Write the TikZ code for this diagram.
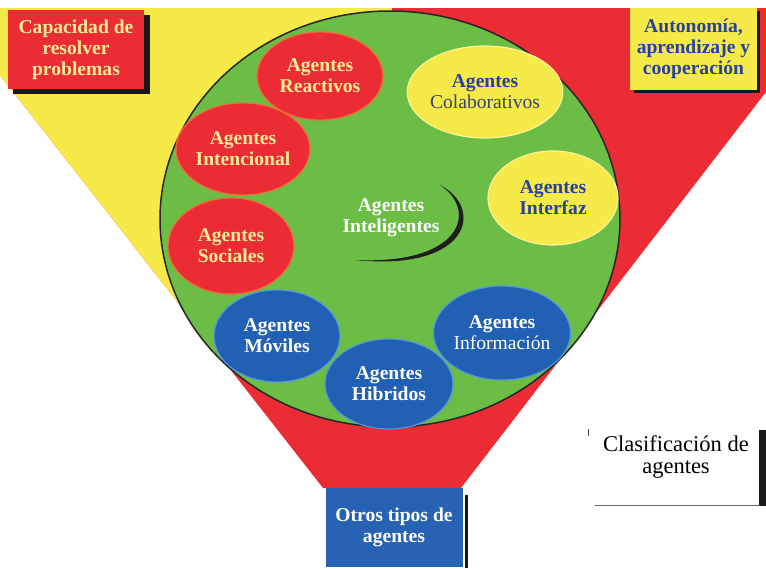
\documentclass[tikz,border=0pt]{standalone}
\usepackage{fontspec}
\setmainfont{Liberation Serif}
\usetikzlibrary{shapes.geometric}

\definecolor{funnelRed}{RGB}{236,44,52}
\definecolor{funnelYellow}{RGB}{246,234,72}
\definecolor{discGreen}{RGB}{108,189,70}
\definecolor{agBlue}{RGB}{33,96,178}
\definecolor{agBlueEdge}{RGB}{80,150,225}
\definecolor{agRedEdge}{RGB}{242,105,60}
\definecolor{agYellowEdge}{RGB}{252,242,150}
\definecolor{paleYellow}{RGB}{252,236,150}
\definecolor{inkBlue}{RGB}{40,65,160}
\definecolor{slateBlue}{RGB}{55,65,125}
\definecolor{boxBlue}{RGB}{40,98,180}

\newcommand\agfont{\fontsize{19.6}{21}\selectfont\bfseries}
\newcommand\capfont{\fontsize{22.5}{21.5}\selectfont}

\tikzset{
  agent/.style={ellipse, inner sep=0pt, align=center, line width=1.2pt,
                minimum width=128pt, minimum height=92pt, font=\agfont},
  redagent/.style={agent, fill=funnelRed, draw=agRedEdge, text=paleYellow},
  yellowagent/.style={agent, fill=funnelYellow, draw=agYellowEdge, text=inkBlue},
  blueagent/.style={agent, fill=agBlue, draw=agBlueEdge, text=white},
  cornerbox/.style={rectangle, inner sep=0pt, align=center, font=\agfont},
  shadowfill/.style={fill=black!90}
}

\begin{document}
\begin{tikzpicture}[x=1pt,y=-1pt]
\useasboundingbox (0,0) rectangle (766,570);

% funnel: red body with the yellow upper-left wedge
\fill[funnelRed] (0,8) -- (766,8) -- (766,92) -- (461,488) -- (323,488) -- (0,75) -- cycle;
\fill[funnelYellow] (0,8) -- (392,8) -- (390,219) -- (199.5,330) -- (0,75) -- cycle;

% central disc
\fill[discGreen] (390,219) ellipse [x radius=230, y radius=208];
\draw[black!85, line width=1.5pt] (390,219) ellipse [x radius=230, y radius=208];

% crescent around the central label
\fill[black!88] (440,185) .. controls (485,208) and (470,272) .. (355,260)
                 .. controls (463,265) and (478,210) .. (440,185) -- cycle;

% agent types
\node[redagent, minimum width=126pt, minimum height=88pt] (reactivos) at (320,76) {Agentes\\Reactivos};
\node[redagent, minimum width=128pt, minimum height=92pt] (intencional) at (243,149) {Agentes\\Intencional};
\node[redagent, minimum width=126pt, minimum height=96pt] (sociales) at (231,246) {Agentes\\Sociales};

\node[yellowagent, minimum width=126pt, minimum height=92pt] (colaborativos) at (485,92)
  {Agentes\\{\mdseries\color{slateBlue}Colaborativos}};
\node[yellowagent, minimum width=130pt, minimum height=94pt] (interfaz) at (553,198) {Agentes\\Interfaz};

\node[blueagent, minimum width=126pt, minimum height=92pt] (moviles) at (277,336) {Agentes\\Móviles};
\node[blueagent, minimum width=130pt, minimum height=94pt] (informacion) at (502,333) {Agentes\\{\mdseries Información}};
\node[blueagent, minimum width=128pt, minimum height=90pt] (hibridos) at (389,384) {Agentes\\Hibridos};

\node[font=\agfont, text=white, align=center] (inteligentes) at (391,218) {Agentes\\Inteligentes};

% corner captions
\fill[shadowfill] (13,15) rectangle (150,94);
\node[cornerbox, fill=funnelRed, text=paleYellow, minimum width=136pt, minimum height=79pt]
  (resolver) at (76,49.5) {Capacidad de\\resolver\\problemas};

\fill[shadowfill] (634,11) rectangle (760,93);
\node[cornerbox, fill=funnelYellow, text=inkBlue, minimum width=127pt, minimum height=82pt]
  (autonomia) at (693.5,49) {Autonomía,\\aprendizaje y\\cooperación};

\fill[shadowfill] (465,495) rectangle (468,568);
\node[cornerbox, fill=boxBlue, text=white, minimum width=137pt, minimum height=79pt]
  (otros) at (394,527.5) {Otros tipos de\\agentes};

% title card
\fill[shadowfill] (759,430) rectangle (766,506);
\draw[black!60, line width=0.8pt] (595,505) -- (760,505);
\draw[black!70, line width=1pt] (588,429) -- (588,436);
\node[align=center, font=\capfont, text=black] (titulo) at (676,457) {Clasificación de\\agentes};
\end{tikzpicture}
\end{document}
